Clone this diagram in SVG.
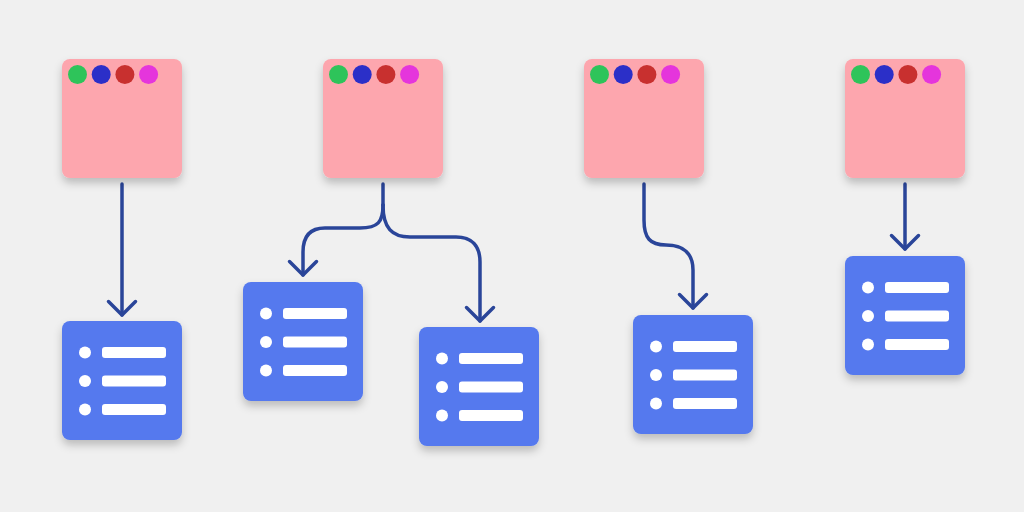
<svg xmlns="http://www.w3.org/2000/svg" width="1024" height="512" viewBox="0 0 1024 512">
<defs>
<filter id="sh" x="-20%" y="-20%" width="140%" height="150%">
<feDropShadow dx="0" dy="5" stdDeviation="4" flood-color="#000" flood-opacity="0.22"/>
</filter>
<marker id="arr" markerUnits="userSpaceOnUse" markerWidth="34" markerHeight="34" refX="16" refY="16" orient="auto" overflow="visible">
<path d="M2.5,2.5 L16,16 L2.5,29.5" fill="none" stroke="#2a4599" stroke-width="3.5" stroke-linecap="round" stroke-linejoin="round"/>
</marker>
<g id="dots">
<circle cx="15.5" cy="15.5" r="9.5" fill="#2ec45a"/>
<circle cx="39.2" cy="15.5" r="9.5" fill="#2b2fc8"/>
<circle cx="62.9" cy="15.5" r="9.5" fill="#c8302f"/>
<circle cx="86.6" cy="15.5" r="9.5" fill="#e535dc"/>
</g>
<g id="list">
<circle cx="23" cy="31.5" r="6" fill="#fff"/>
<circle cx="23" cy="60" r="6" fill="#fff"/>
<circle cx="23" cy="88.5" r="6" fill="#fff"/>
<rect x="40" y="26" width="64" height="11" rx="3" fill="#fff"/>
<rect x="40" y="54.5" width="64" height="11" rx="3" fill="#fff"/>
<rect x="40" y="83" width="64" height="11" rx="3" fill="#fff"/>
</g>
</defs>
<style>
.pink{fill:#fda6ae;filter:url(#sh)}
.blue{fill:#5479ee;filter:url(#sh)}
.conn{fill:none;stroke:#2a4599;stroke-width:3.5;stroke-linecap:round;stroke-linejoin:round}
</style>
<rect width="1024" height="512" fill="#f0f0f0"/>
<g id="connectors">
<path class="conn" d="M122,184 L122,315" marker-end="url(#arr)"/>
<path class="conn" d="M383,184 L383,205"/>
<path class="conn" d="M383,205 C383,222 378,228 360,228 L325,228 C310,228 303,236 303,252 L303,275" marker-end="url(#arr)"/>
<path class="conn" d="M383,205 C383,228 392,237 410,237 L456,237 C472,237 480,246 480,262 L480,321" marker-end="url(#arr)"/>
<path class="conn" d="M644,184 L644,220 C644,238 650,245 666,245 C684,245 693,254 693,270 L693,308" marker-end="url(#arr)"/>
<path class="conn" d="M905,184 L905,249" marker-end="url(#arr)"/>
</g>
<g id="source1"><rect class="pink" x="62" y="59" width="120" height="119" rx="8"/><use href="#dots" x="62" y="59"/></g>
<g id="source2"><rect class="pink" x="323" y="59" width="120" height="119" rx="8"/><use href="#dots" x="323" y="59"/></g>
<g id="source3"><rect class="pink" x="584" y="59" width="120" height="119" rx="8"/><use href="#dots" x="584" y="59"/></g>
<g id="source4"><rect class="pink" x="845" y="59" width="120" height="119" rx="8"/><use href="#dots" x="845" y="59"/></g>
<g id="list1"><rect class="blue" x="62" y="321" width="120" height="119" rx="8"/><use href="#list" x="62" y="321"/></g>
<g id="list2"><rect class="blue" x="243" y="282" width="120" height="119" rx="8"/><use href="#list" x="243" y="282"/></g>
<g id="list3"><rect class="blue" x="419" y="327" width="120" height="119" rx="8"/><use href="#list" x="419" y="327"/></g>
<g id="list4"><rect class="blue" x="633" y="315" width="120" height="119" rx="8"/><use href="#list" x="633" y="315"/></g>
<g id="list5"><rect class="blue" x="845" y="256" width="120" height="119" rx="8"/><use href="#list" x="845" y="256"/></g>
</svg>
